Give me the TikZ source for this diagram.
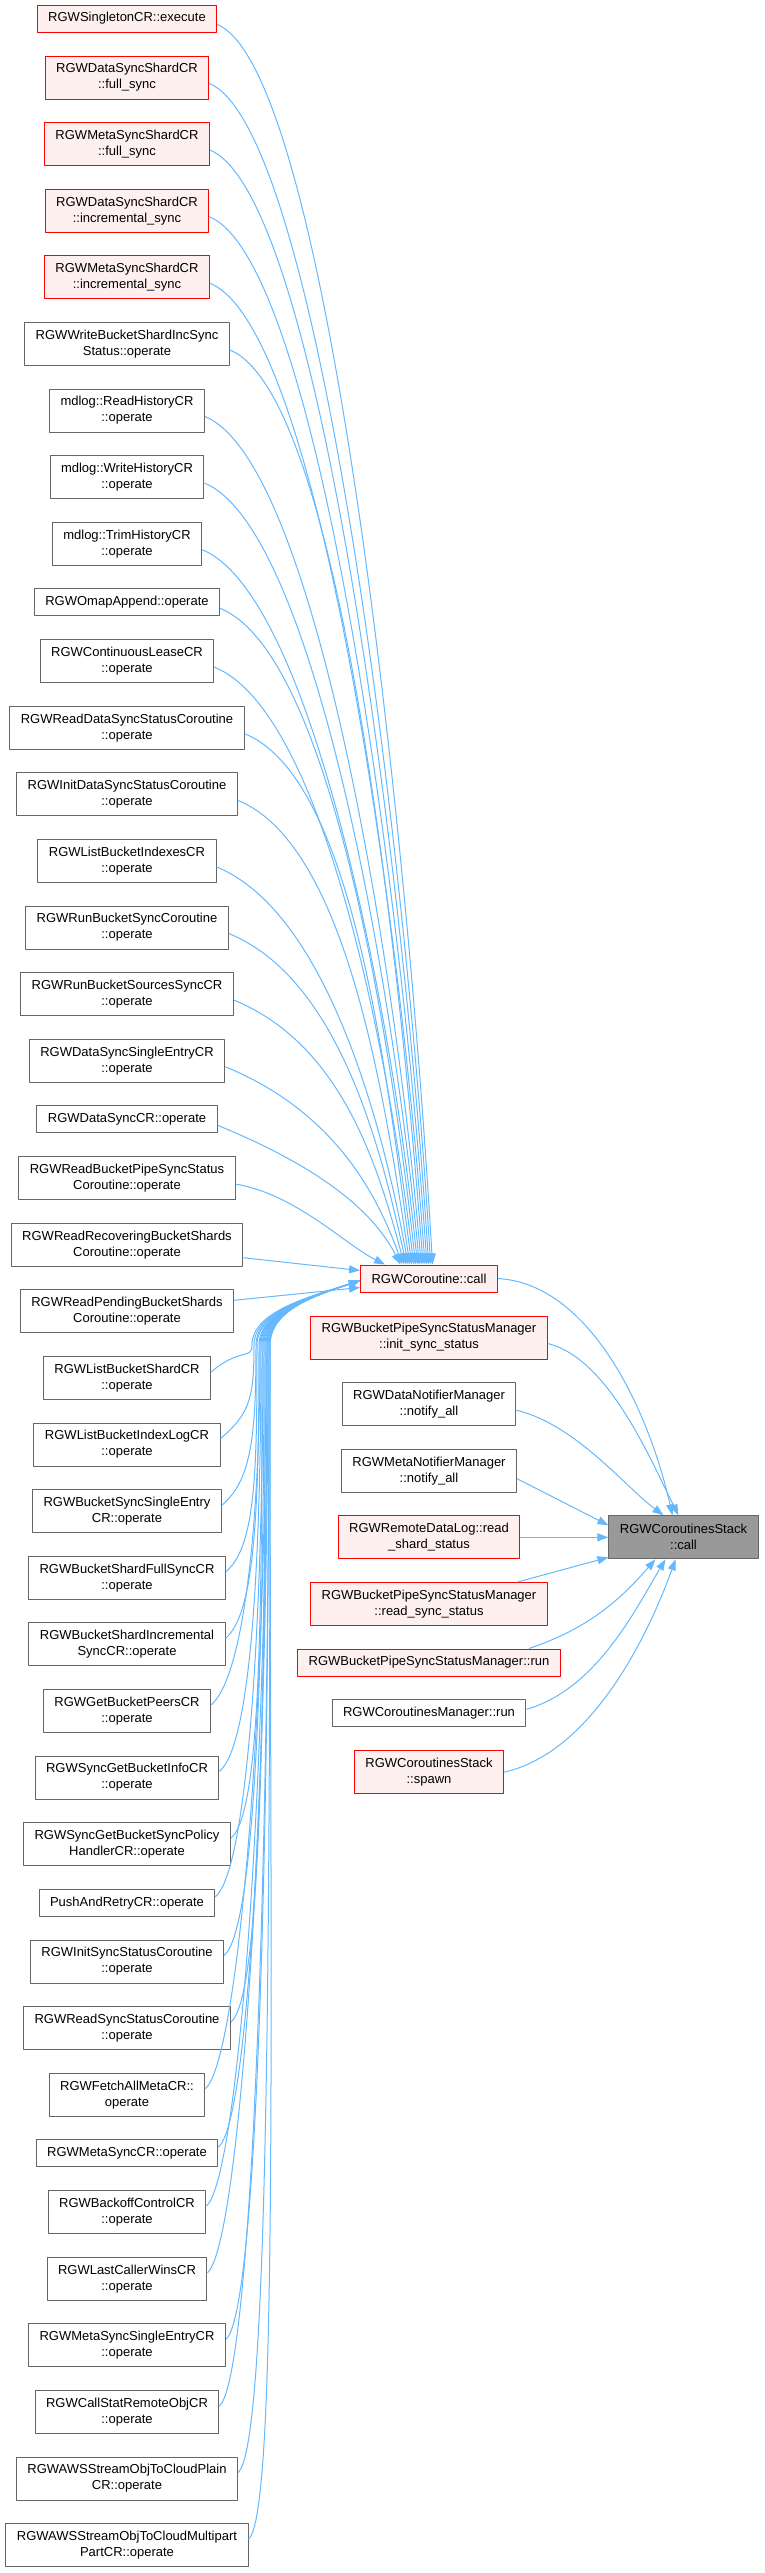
\documentclass[tikz,border=0pt]{standalone}
\usepackage{fontspec}
\setmainfont{Liberation Sans}
\usetikzlibrary{arrows.meta}
\definecolor{linkblue}{HTML}{63B8FF}
\definecolor{boxred}{HTML}{FF0000}
\definecolor{boxpink}{HTML}{FFF0F0}
\definecolor{boxgray}{HTML}{666666}
\definecolor{boxroot}{HTML}{999999}
\begin{document}
\begin{tikzpicture}[x=1pt, y=-1pt, line join=round,
    fn/.style={draw=boxgray, fill=white, line width=1pt, inner xsep=11pt, inner ysep=0pt,
      align=center, font=\fontsize{13}{16}\selectfont},
    lineone/.style={fn, minimum height=27pt},
    linetwo/.style={fn, minimum height=43pt},
    hot/.style={draw=boxred, fill=boxpink},
    focus/.style={draw=boxgray, fill=boxroot},
    link/.style={draw=linkblue, line width=1pt, -{Triangle[length=11pt, width=8pt]}}]
  \useasboundingbox (0,0) rectangle (764,2573);
  % callers
  \node[lineone, hot] (c1) at (127,18.5) {RGWSingletonCR::execute};
  \node[linetwo, hot] (c2) at (127,77.5) {RGWDataSyncShardCR\\::full\_sync};
  \node[linetwo, hot] (c3) at (127,144.1) {RGWMetaSyncShardCR\\::full\_sync};
  \node[linetwo, hot] (c4) at (127,210.7) {RGWDataSyncShardCR\\::incremental\_sync};
  \node[linetwo, hot] (c5) at (127,277.3) {RGWMetaSyncShardCR\\::incremental\_sync};
  \node[linetwo] (c6) at (127,343.9) {RGWWriteBucketShardIncSync\\Status::operate};
  \node[linetwo] (c7) at (127,410.5) {mdlog::ReadHistoryCR\\::operate};
  \node[linetwo] (c8) at (127,477.1) {mdlog::WriteHistoryCR\\::operate};
  \node[linetwo] (c9) at (127,543.7) {mdlog::TrimHistoryCR\\::operate};
  \node[lineone] (c10) at (127,602.3) {RGWOmapAppend::operate};
  \node[linetwo] (c11) at (127,661.1) {RGWContinuousLeaseCR\\::operate};
  \node[linetwo] (c12) at (127,727.7) {RGWReadDataSyncStatusCoroutine\\::operate};
  \node[linetwo] (c13) at (127,794.3) {RGWInitDataSyncStatusCoroutine\\::operate};
  \node[linetwo] (c14) at (127,860.9) {RGWListBucketIndexesCR\\::operate};
  \node[linetwo] (c15) at (127,927.5) {RGWRunBucketSyncCoroutine\\::operate};
  \node[linetwo] (c16) at (127,994.1) {RGWRunBucketSourcesSyncCR\\::operate};
  \node[linetwo] (c17) at (127,1060.7) {RGWDataSyncSingleEntryCR\\::operate};
  \node[lineone] (c18) at (127,1119.3) {RGWDataSyncCR::operate};
  \node[linetwo] (c19) at (127,1178.1) {RGWReadBucketPipeSyncStatus\\Coroutine::operate};
  \node[linetwo] (c20) at (127,1244.7) {RGWReadRecoveringBucketShards\\Coroutine::operate};
  \node[linetwo] (c21) at (127,1311.3) {RGWReadPendingBucketShards\\Coroutine::operate};
  \node[linetwo] (c22) at (127,1377.9) {RGWListBucketShardCR\\::operate};
  \node[linetwo] (c23) at (127,1444.5) {RGWListBucketIndexLogCR\\::operate};
  \node[linetwo] (c24) at (127,1511.1) {RGWBucketSyncSingleEntry\\CR::operate};
  \node[linetwo] (c25) at (127,1577.7) {RGWBucketShardFullSyncCR\\::operate};
  \node[linetwo] (c26) at (127,1644.3) {RGWBucketShardIncremental\\SyncCR::operate};
  \node[linetwo] (c27) at (127,1710.9) {RGWGetBucketPeersCR\\::operate};
  \node[linetwo] (c28) at (127,1777.5) {RGWSyncGetBucketInfoCR\\::operate};
  \node[linetwo] (c29) at (127,1844.1) {RGWSyncGetBucketSyncPolicy\\HandlerCR::operate};
  \node[lineone] (c30) at (127,1902.7) {PushAndRetryCR::operate};
  \node[linetwo] (c31) at (127,1961.5) {RGWInitSyncStatusCoroutine\\::operate};
  \node[linetwo] (c32) at (127,2028.1) {RGWReadSyncStatusCoroutine\\::operate};
  \node[linetwo] (c33) at (127,2094.7) {RGWFetchAllMetaCR::\\operate};
  \node[lineone] (c34) at (127,2153.3) {RGWMetaSyncCR::operate};
  \node[linetwo] (c35) at (127,2212.1) {RGWBackoffControlCR\\::operate};
  \node[linetwo] (c36) at (127,2278.7) {RGWLastCallerWinsCR\\::operate};
  \node[linetwo] (c37) at (127,2345.3) {RGWMetaSyncSingleEntryCR\\::operate};
  \node[linetwo] (c38) at (127,2411.9) {RGWCallStatRemoteObjCR\\::operate};
  \node[linetwo] (c39) at (127,2478.5) {RGWAWSStreamObjToCloudPlain\\CR::operate};
  \node[linetwo] (c40) at (127,2545.1) {RGWAWSStreamObjToCloudMultipart\\PartCR::operate};
  % middle column
  \node[lineone, hot] (call) at (429,1278.5) {RGWCoroutine::call};
  \node[linetwo, hot] (init) at (429,1337.5) {RGWBucketPipeSyncStatusManager\\::init\_sync\_status};
  \node[linetwo] (dnote) at (429,1404.1) {RGWDataNotifierManager\\::notify\_all};
  \node[linetwo] (mnote) at (429,1470.7) {RGWMetaNotifierManager\\::notify\_all};
  \node[linetwo, hot] (rdlog) at (429,1537.3) {RGWRemoteDataLog::read\\\_shard\_status};
  \node[linetwo, hot] (rsync) at (429,1603.9) {RGWBucketPipeSyncStatusManager\\::read\_sync\_status};
  \node[lineone, hot] (prun) at (429,1662.5) {RGWBucketPipeSyncStatusManager::run};
  \node[lineone] (mrun) at (429,1713.3) {RGWCoroutinesManager::run};
  \node[linetwo, hot] (spawn) at (429,1772.1) {RGWCoroutinesStack\\::spawn};
  % callee
  \node[linetwo, focus] (stack) at (683.5,1537.3) {RGWCoroutinesStack\\::call};
  \coordinate (bend) at (252,1345);
  % upper callers drop into the top of call
  \foreach \c/\dx/\h in {c1/3.5/434, c2/1.6/414, c3/-0.3/390, c4/-2.1/367, c5/-4/344,
      c6/-5.9/320, c7/-7.8/297, c8/-9.7/274, c9/-11.5/250, c10/-13.4/229, c11/-15.3/209,
      c12/-17.2/186, c13/-19.1/163, c14/-20.9/139, c15/-22.8/116, c16/-24.7/93,
      c17/-26.6/69, c18/-28.5/49}
    \draw[link] ([yshift=-6pt]\c.east) .. controls +(110,45) and +(-25,-\h) .. ([xshift=\dx pt]call.north);
  \draw[link] ([yshift=-6pt]c19.east) .. controls +(60,10) and +(-40,-20) .. ([xshift=25pt]call.north west);
  \draw[link] ([yshift=-13pt]c20.east) -- ([yshift=8pt]call.west);
  \draw[link] ([yshift=11pt]c21.east) -- ([yshift=-9pt]call.west);
  % lower callers climb into the left of call
  \foreach \c/\bx/\k in {c22/0/15, c23/2/51, c24/4/88, c25/5/125, c26/7/161, c27/8/198,
      c28/9/235, c29/10/271, c30/11/303, c31/12/336, c32/13/372, c33/14/409, c34/15/441,
      c35/15/474, c36/16/510, c37/17/547, c38/17/584, c39/18/620, c40/18/657}
    \draw[link] ([yshift=6pt]\c.east) .. controls +(30,-25) and +(0,\k) .. ([xshift=\bx pt]bend)
      .. controls +(0,-35) and +(-45,15) .. ([yshift=-2pt]call.west);
  % into the stack
  \draw[link] (call.east) .. controls +(90,5) and +(-25,-110) .. ([xshift=-11pt]stack.north);
  \draw[link] ([yshift=-6pt]init.east) .. controls +(60,15) and +(-30,-60) .. ([xshift=-5pt]stack.north);
  \draw[link] ([yshift=-6pt]dnote.east) .. controls +(60,15) and +(-40,-30) .. ([xshift=-20pt]stack.north);
  \draw[link] ([yshift=-8pt]mnote.east) -- ([yshift=12pt]stack.west);
  \draw[link] (rdlog.east) -- (stack.west);
  \draw[link] ([xshift=-30pt]rsync.north east) -- ([yshift=-20pt]stack.west);
  \draw[link] ([xshift=-32pt]prun.north east) .. controls +(60,-20) and +(-35,40) .. ([xshift=-28pt]stack.south);
  \draw[link] ([yshift=4pt]mrun.east) .. controls +(70,-20) and +(-30,50) .. ([xshift=-18pt]stack.south);
  \draw[link] (spawn.east) .. controls +(90,-20) and +(-25,70) .. ([xshift=-8pt]stack.south);
\end{tikzpicture}
\end{document}
